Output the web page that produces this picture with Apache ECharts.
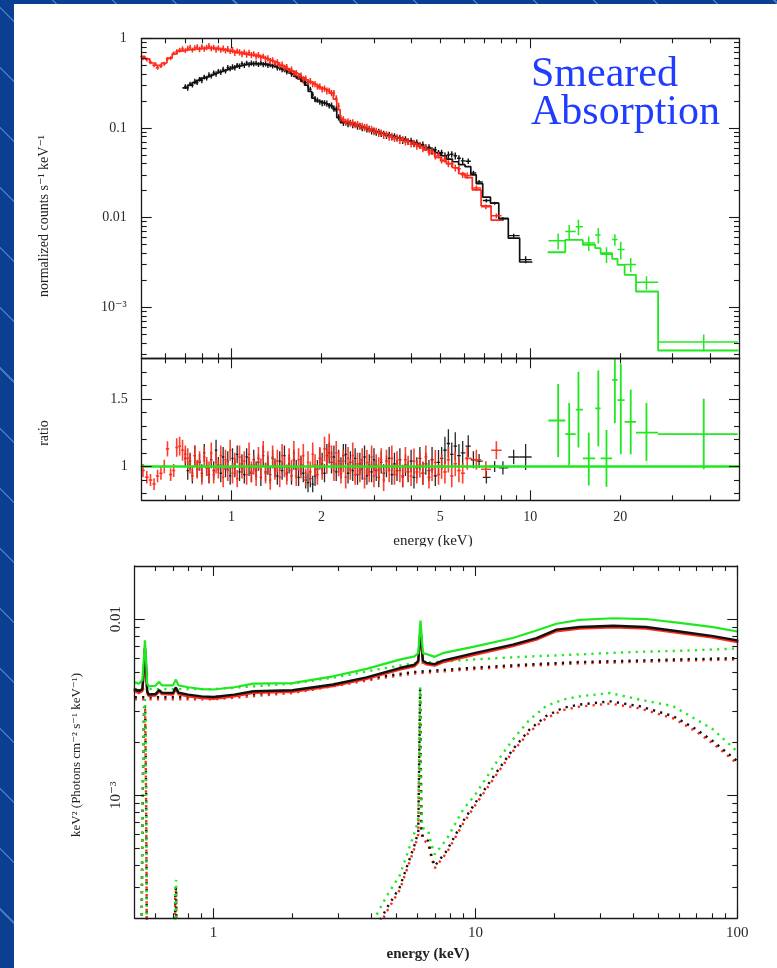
<!DOCTYPE html>
<html>
<head>
<meta charset="utf-8">
<script src="https://cdn.jsdelivr.net/npm/echarts@6/dist/echarts.min.js"></script>
<style>
  html, body { margin: 0; padding: 0; width: 777px; height: 968px; overflow: hidden; }
  body {
    background-color: #0a3f92;
    background-image: repeating-linear-gradient(45deg,
      rgba(255,255,255,0) 0px, rgba(255,255,255,0) 41px,
      rgba(120,160,225,0.55) 41px, rgba(120,160,225,0.55) 42.5px);
  }
  #sheet { position: absolute; left: 14px; top: 4px; right: 0; bottom: 0; background: #ffffff; }
  #chart { position: absolute; left: 0; top: 0; width: 777px; height: 968px; }
</style>
</head>
<body>
<div id="sheet"></div>
<div id="chart"></div>
<script>
// ================= red detector (0.5-8 keV) =================
// folded model, sampled on the model grid (drawn as a histogram)
const redModelE = [0.505,0.52,0.545,0.57,0.595,0.62,0.645,0.67,0.695,0.72,
  0.75,0.78,0.81,0.84,0.87,0.90,0.93,0.96,0.99,1.02,
  1.05,1.08,1.11,1.14,1.17,1.20,1.235,1.27,1.305,1.34,
  1.38,1.42,1.46,1.50,1.545,1.59,1.635,1.68,1.73,1.78,
  1.83,1.88,1.93,1.985,2.04,2.10,2.16,2.22,2.28,2.34,
  2.41,2.48,2.56,2.64,2.73,2.82,2.92,3.02,3.13,3.25,
  3.37,3.50,3.64,3.79,3.95,4.12,4.30,4.49,4.69,4.90,
  5.12,5.36,5.62,5.90,6.2,6.6,7.1,7.7];
const redModel = [0.63,0.59,0.53,0.50,0.53,0.60,0.67,0.72,0.74,0.75,
  0.76,0.77,0.78,0.78,0.77,0.76,0.75,0.73,0.72,0.70,
  0.69,0.68,0.67,0.66,0.65,0.64,0.63,0.61,0.59,0.57,
  0.55,0.53,0.50,0.48,0.455,0.43,0.41,0.39,0.365,0.345,
  0.325,0.31,0.295,0.28,0.27,0.258,0.245,0.21,0.16,0.125,
  0.118,0.114,0.110,0.106,0.102,0.098,0.094,0.091,0.088,0.085,
  0.082,0.079,0.076,0.073,0.070,0.066,0.062,0.057,0.052,0.047,
  0.043,0.040,0.036,0.031,0.028,0.0204,0.0135,0.0094];
// data channels
const redE = [0.505,0.52,0.535,0.55,0.565,0.58,0.595,0.61,0.625,0.64,
  0.655,0.67,0.685,0.70,0.713,0.726,0.739,0.753,0.767,0.781,
  0.795,0.81,0.825,0.84,0.855,0.871,0.887,0.903,0.92,0.937,
  0.954,0.971,0.989,1.007,1.025,1.044,1.063,1.083,1.103,1.123,
  1.144,1.165,1.186,1.208,1.23,1.253,1.276,1.299,1.323,1.347,
  1.372,1.397,1.423,1.449,1.476,1.503,1.53,1.558,1.587,1.616,
  1.646,1.676,1.707,1.738,1.77,1.802,1.835,1.869,1.903,1.938,
  1.974,2.01,2.047,2.084,2.122,2.161,2.201,2.241,2.282,2.324,
  2.367,2.41,2.454,2.499,2.545,2.592,2.64,2.688,2.737,2.787,
  2.838,2.89,2.943,2.997,3.05,3.11,3.17,3.23,3.30,3.37,
  3.44,3.51,3.58,3.66,3.74,3.82,3.90,3.99,4.08,4.17,
  4.27,4.37,4.47,4.58,4.69,4.81,4.93,5.05,5.18,5.32,
  5.46,5.61,5.77,5.94,6.15,6.6,7.1,7.7];
const redCounts = [0.60,0.58,0.54,0.50,0.47,0.49,0.52,0.59,0.60,0.68,
  0.71,0.74,0.76,0.73,0.77,0.79,0.74,0.78,0.80,0.75,
  0.80,0.76,0.79,0.82,0.77,0.79,0.75,0.78,0.74,0.77,
  0.73,0.76,0.72,0.74,0.69,0.72,0.70,0.67,0.70,0.66,
  0.69,0.65,0.67,0.63,0.65,0.61,0.63,0.59,0.60,0.56,
  0.57,0.53,0.54,0.50,0.51,0.47,0.48,0.44,0.45,0.41,
  0.41,0.38,0.385,0.35,0.36,0.325,0.335,0.31,0.31,0.29,
  0.29,0.27,0.275,0.26,0.26,0.245,0.245,0.215,0.175,0.128,
  0.125,0.116,0.119,0.112,0.115,0.108,0.111,0.104,0.106,0.100,
  0.102,0.096,0.098,0.091,0.093,0.087,0.089,0.083,0.085,0.079,
  0.081,0.076,0.078,0.073,0.075,0.070,0.071,0.066,0.068,0.063,
  0.064,0.059,0.060,0.054,0.055,0.049,0.050,0.044,0.045,0.040,
  0.040,0.036,0.035,0.030,0.0295,0.0214,0.0132,0.0105];
const redRatio = [0.97,0.92,0.90,0.87,0.93,0.95,1.00,1.13,0.94,0.97,
  1.14,1.15,1.12,1.09,1.06,1.02,0.95,1.08,0.98,1.04,
  0.93,1.07,1.00,0.96,1.10,0.94,1.03,0.98,1.08,0.92,
  1.05,0.97,1.12,0.95,1.02,0.91,1.07,0.99,1.04,0.94,
  1.09,0.96,1.01,0.93,1.06,0.98,1.11,0.95,1.03,0.90,
  1.07,0.97,1.04,0.92,1.08,1.00,0.94,1.06,0.97,1.10,
  0.93,1.05,0.99,1.08,0.92,1.03,0.96,1.09,1.01,0.94,
  1.06,0.98,1.13,1.04,1.15,1.07,0.97,1.10,1.02,0.95,
  1.04,0.92,1.06,0.98,1.08,0.94,1.02,0.97,1.05,0.91,
  1.03,0.96,1.07,0.93,1.01,0.98,1.05,0.90,1.04,0.97,
  1.06,0.94,1.02,0.97,0.92,1.05,0.99,0.93,1.04,0.96,
  1.01,0.95,1.07,0.92,0.98,1.03,0.94,1.00,0.96,1.05,
  0.93,1.02,0.97,0.95,1.06,1.05,0.98,1.12];
const redErr = [0.05,0.05,0.05,0.05,0.05,0.05,0.05,0.05,0.05,0.05,
  0.06,0.06,0.07,0.06,0.07,0.07,0.06,0.07,0.07,0.07,
  0.07,0.07,0.07,0.08,0.07,0.07,0.08,0.07,0.07,0.08,
  0.07,0.08,0.07,0.08,0.08,0.07,0.08,0.08,0.07,0.08,
  0.08,0.08,0.07,0.08,0.08,0.08,0.07,0.08,0.08,0.08,
  0.08,0.07,0.08,0.08,0.08,0.08,0.08,0.07,0.08,0.08,
  0.08,0.08,0.08,0.08,0.07,0.08,0.08,0.08,0.08,0.08,
  0.08,0.08,0.08,0.09,0.08,0.08,0.08,0.08,0.09,0.08,
  0.08,0.09,0.08,0.08,0.09,0.08,0.08,0.09,0.08,0.08,
  0.09,0.08,0.08,0.09,0.08,0.09,0.08,0.09,0.08,0.09,
  0.09,0.08,0.09,0.09,0.08,0.09,0.09,0.08,0.09,0.09,
  0.09,0.09,0.08,0.09,0.09,0.09,0.08,0.09,0.09,0.09,
  0.09,0.09,0.09,0.08,0.08,0.07,0.06,0.06];

// ================= black detector (0.7-10 keV) =================
const blackModelE = [0.70,0.725,0.75,0.775,0.80,0.825,0.85,0.875,0.90,0.93,
  0.96,0.99,1.02,1.05,1.08,1.11,1.14,1.17,1.20,1.235,
  1.27,1.305,1.34,1.38,1.42,1.46,1.50,1.545,1.59,1.635,
  1.68,1.73,1.78,1.83,1.88,1.93,1.985,2.04,2.10,2.16,
  2.22,2.28,2.34,2.41,2.48,2.56,2.64,2.73,2.82,2.92,
  3.02,3.13,3.25,3.37,3.50,3.64,3.79,3.95,4.12,4.30,
  4.49,4.69,4.90,5.12,5.36,5.62,5.90,6.2,6.45,6.74,
  7.13,7.6,8.1,8.8,9.65];
const blackModel = [0.28,0.30,0.32,0.34,0.36,0.375,0.39,0.405,0.42,0.435,
  0.45,0.465,0.48,0.49,0.50,0.51,0.515,0.52,0.52,0.52,
  0.515,0.51,0.50,0.49,0.47,0.45,0.435,0.415,0.395,0.375,
  0.355,0.33,0.30,0.255,0.215,0.20,0.195,0.188,0.18,0.172,
  0.16,0.13,0.116,0.114,0.112,0.109,0.106,0.102,0.098,0.094,
  0.091,0.088,0.085,0.082,0.079,0.076,0.073,0.0705,0.067,0.064,
  0.060,0.057,0.053,0.049,0.045,0.042,0.039,0.037,0.030,0.024,
  0.0169,0.0145,0.0098,0.0059,0.0032];
const blackE = [0.70,0.713,0.726,0.739,0.753,0.767,0.781,0.795,0.81,0.825,
  0.84,0.855,0.871,0.887,0.903,0.92,0.937,0.954,0.971,0.989,
  1.007,1.025,1.044,1.063,1.083,1.103,1.123,1.144,1.165,1.186,
  1.208,1.23,1.253,1.276,1.299,1.323,1.347,1.372,1.397,1.423,
  1.449,1.476,1.503,1.53,1.558,1.587,1.616,1.646,1.676,1.707,
  1.738,1.77,1.802,1.835,1.869,1.903,1.938,1.974,2.01,2.047,
  2.084,2.122,2.161,2.201,2.241,2.282,2.324,2.367,2.41,2.454,
  2.499,2.545,2.592,2.64,2.688,2.737,2.787,2.838,2.89,2.943,
  2.997,3.05,3.11,3.17,3.23,3.30,3.37,3.44,3.51,3.58,
  3.66,3.74,3.82,3.90,3.99,4.08,4.17,4.27,4.37,4.47,
  4.58,4.69,4.81,4.93,5.05,5.18,5.32,5.46,5.61,5.77,
  5.94,6.2,6.45,6.74,7.13,7.6,8.1,8.8,9.65];
const blackCounts = [0.29,0.28,0.31,0.30,0.33,0.32,0.35,0.34,0.37,0.36,
  0.39,0.38,0.41,0.40,0.43,0.42,0.45,0.43,0.47,0.46,
  0.48,0.47,0.50,0.49,0.52,0.50,0.53,0.51,0.53,0.52,
  0.53,0.51,0.53,0.51,0.52,0.50,0.51,0.49,0.50,0.47,
  0.47,0.45,0.45,0.42,0.43,0.40,0.40,0.38,0.37,0.36,
  0.34,0.32,0.30,0.27,0.235,0.21,0.205,0.195,0.19,0.19,
  0.187,0.177,0.178,0.165,0.162,0.132,0.121,0.114,0.115,0.111,
  0.114,0.108,0.110,0.104,0.106,0.100,0.102,0.096,0.098,0.092,
  0.094,0.089,0.091,0.086,0.087,0.082,0.084,0.079,0.081,0.077,
  0.078,0.073,0.075,0.070,0.072,0.067,0.069,0.064,0.065,0.061,
  0.061,0.056,0.057,0.052,0.053,0.049,0.050,0.051,0.049,0.046,
  0.043,0.0426,0.0315,0.025,0.0155,0.0145,0.0097,0.0063,0.0034];
const blackRatio = [1.06,0.97,1.04,0.93,1.08,0.98,1.03,0.95,1.10,0.99,
  0.94,1.05,0.97,1.12,1.01,0.95,1.07,0.98,1.04,0.93,
  1.06,0.99,1.09,0.96,1.02,0.94,1.07,1.00,0.95,1.05,
  0.97,1.03,0.92,1.08,0.96,1.01,0.94,1.06,0.99,0.93,
  1.04,0.97,1.08,0.95,1.02,0.93,1.05,0.98,0.92,1.01,
  0.95,0.90,0.88,0.91,0.87,0.93,0.98,1.06,1.02,0.95,
  1.08,1.10,1.03,1.07,0.96,1.04,0.99,1.08,1.09,0.95,
  1.03,0.97,1.06,0.94,1.02,0.98,1.07,0.93,1.01,0.96,
  1.05,0.97,0.92,1.03,0.95,1.00,1.06,0.94,1.02,0.97,
  1.05,0.93,1.01,0.96,1.04,0.92,0.99,1.06,0.95,1.02,
  0.97,1.05,0.93,1.03,1.06,1.12,1.17,1.09,1.15,1.08,
  1.10,1.15,1.05,1.04,0.92,1.00,0.99,1.07,1.07];
const blackErr = [0.06,0.07,0.06,0.06,0.07,0.06,0.06,0.07,0.06,0.06,
  0.07,0.06,0.07,0.07,0.06,0.07,0.07,0.06,0.07,0.07,
  0.07,0.07,0.06,0.07,0.07,0.07,0.06,0.07,0.07,0.07,
  0.07,0.06,0.07,0.07,0.07,0.07,0.07,0.06,0.07,0.07,
  0.07,0.07,0.07,0.06,0.07,0.07,0.07,0.07,0.07,0.07,
  0.07,0.07,0.08,0.07,0.07,0.08,0.07,0.07,0.08,0.07,
  0.08,0.07,0.08,0.08,0.07,0.08,0.08,0.08,0.07,0.08,
  0.08,0.08,0.07,0.08,0.08,0.08,0.08,0.07,0.08,0.08,
  0.08,0.08,0.08,0.08,0.07,0.08,0.08,0.08,0.08,0.08,
  0.08,0.09,0.08,0.08,0.08,0.09,0.08,0.08,0.09,0.08,
  0.08,0.09,0.08,0.09,0.08,0.09,0.09,0.08,0.09,0.08,
  0.08,0.07,0.06,0.05,0.05,0.04,0.05,0.05,0.09];

// ================= green detector (hard X-ray) =================
const greenEdges = [11.5,13.1,14.2,15.0,16.5,17.2,18.8,19.6,20.7,22.6,26.8,49.5];
const greenE = [12.4,13.5,14.5,15.7,16.9,18.0,19.2,20.1,21.7,24.5,38.1];
const greenModel = [0.00411,0.00564,0.00564,0.00497,0.00456,0.00401,0.00347,0.00297,0.00230,0.00150,0.00033];
const greenCounts = [0.00554,0.0070,0.0079,0.0052,0.0064,0.0039,0.0057,0.0044,0.0030,0.0019,0.00041];
const greenRatio = [1.34,1.24,1.42,1.06,1.43,1.06,1.64,1.49,1.33,1.25,1.24];
const greenRatioLo = [1.07,1.01,1.14,0.86,1.15,0.85,1.32,1.09,1.09,1.04,0.98];
const greenRatioHi = [1.61,1.47,1.70,1.25,1.71,1.27,1.80,1.76,1.57,1.47,1.50];

// ================= unfolded model, E^2 F(E) =================
const totE = [0.50,0.52,0.535,0.543,0.547,0.552,0.558,0.565,0.60,0.62,
  0.635,0.70,0.718,0.735,0.80,0.90,1.0,1.2,1.42,2.0,
  2.86,3.84,5.14,5.85,6.05,6.17,6.3,6.5,6.99,7.5,
  10,13.9,17.1,20.4,25,33.6,44.8,60.2,80.9,100];
const totBlack = [0.00398,0.0039,0.0040,0.0055,0.00685,0.0055,0.0039,0.00373,0.00375,0.00395,
  0.00382,0.00380,0.00409,0.00382,0.00372,0.00364,0.00361,0.00372,0.00389,0.00394,
  0.00425,0.00466,0.00527,0.0055,0.0058,0.0087,0.0058,0.00564,0.00555,0.0058,
  0.00642,0.00715,0.0078,0.0087,0.00901,0.00916,0.00901,0.0085,0.0080,0.00756];
const totRed = [0.0039,0.0038,0.0039,0.0054,0.0068,0.0054,0.0038,0.00366,0.00368,0.00388,
  0.00375,0.00372,0.0040,0.00374,0.00364,0.00356,0.00353,0.00364,0.00381,0.00386,
  0.00416,0.00457,0.00516,0.00539,0.00568,0.0086,0.00568,0.00553,0.00544,0.00568,
  0.00629,0.00701,0.00765,0.00853,0.00883,0.00898,0.00883,0.00833,0.00784,0.00741];
const totGreen = [0.00437,0.0043,0.0045,0.0062,0.00756,0.0061,0.0043,0.00415,0.00418,0.0044,
  0.0042,0.0042,0.00453,0.0042,0.0041,0.0040,0.00398,0.0041,0.0043,0.00433,
  0.00473,0.00521,0.00588,0.00614,0.0064,0.0098,0.0064,0.00633,0.0061,0.0064,
  0.0070,0.0078,0.0086,0.0094,0.0099,0.0101,0.0100,0.0095,0.0090,0.0085];

// power-law continuum component
const plE = [0.5,1,2,3,4.3,5.8,10,15,25,40,60,100];
const plBlack = [0.0036,0.0036,0.0039,0.0043,0.0047,0.0050,0.0053,0.0055,0.0057,0.0058,0.0059,0.0060];
const plRed = [0.0035,0.0035,0.0038,0.0042,0.0046,0.0049,0.0052,0.0054,0.0056,0.0057,0.0058,0.0059];
const plGreen = [0.0040,0.0040,0.0043,0.0047,0.0052,0.0056,0.0059,0.0061,0.0063,0.0065,0.0066,0.0068];

// reflection component with Fe line
const rfE = [4.2,4.6,5.14,5.85,6.05,6.15,6.22,6.3,6.6,6.8,
  6.99,7.76,8.98,10,12,13.9,16.1,18.6,21.6,25,
  32.7,42.4,56.9,69.9,80.9,100];
const rfBlack = [1.8e-4,2.3e-4,3.0e-4,5.2e-4,6.2e-4,0.0040,6.4e-4,5.8e-4,5.5e-4,4.5e-4,
  3.96e-4,4.82e-4,7.13e-4,9.06e-4,1.34e-3,1.82e-3,2.36e-3,2.81e-3,3.13e-3,3.27e-3,
  3.41e-3,3.2e-3,2.81e-3,2.36e-3,2.02e-3,1.56e-3];
const rfRed = [1.7e-4,2.2e-4,2.9e-4,5.0e-4,6.0e-4,0.0039,6.2e-4,5.6e-4,5.3e-4,4.4e-4,
  3.85e-4,4.7e-4,6.9e-4,8.8e-4,1.30e-3,1.77e-3,2.29e-3,2.73e-3,3.04e-3,3.18e-3,
  3.31e-3,3.11e-3,2.73e-3,2.29e-3,1.96e-3,1.51e-3];
const rfGreen = [2.1e-4,2.7e-4,3.5e-4,6.1e-4,7.2e-4,0.0041,7.4e-4,6.5e-4,6.3e-4,5.2e-4,
  4.61e-4,5.61e-4,8.3e-4,1.01e-3,1.53e-3,2.07e-3,2.68e-3,3.2e-3,3.49e-3,3.64e-3,
  3.8e-3,3.49e-3,3.2e-3,2.68e-3,2.36e-3,1.77e-3];

// soft emission lines
const slE = [0.50,0.527,0.535,0.543,0.548,0.553,0.560,0.60,0.708,0.714,0.720,0.726,0.75];
const slBlack = [2e-5,2e-5,8e-4,3.0e-3,3.2e-3,1.0e-3,2e-5,2e-5,2e-5,2.8e-4,3.0e-4,2e-5,2e-5];
const slRed = [2e-5,2e-5,7e-4,2.9e-3,3.1e-3,9e-4,2e-5,2e-5,2e-5,2.7e-4,2.9e-4,2e-5,2e-5];
const slGreen = [2e-5,2e-5,9e-4,3.3e-3,3.5e-3,1.1e-3,2e-5,2e-5,2e-5,3.1e-4,3.3e-4,2e-5,2e-5];

// ================= axis ticks and labels =================
const specXMinor = [0.6,0.7,0.8,0.9,2,3,4,5,6,7,8,9,20,30,40];
const specXMajor = [1,10];
const specXLabelValues = [1,2,5,10,20];
const specXLabelTexts = ['1','2','5','10','20'];
const countsMinor = [3e-4,4e-4,5e-4,6e-4,7e-4,8e-4,9e-4,0.002,0.003,0.004,0.005,0.006,0.007,0.008,0.009,
  0.02,0.03,0.04,0.05,0.06,0.07,0.08,0.09,0.2,0.3,0.4,0.5,0.6,0.7,0.8,0.9];
const countsMajor = [0.001,0.01,0.1,1];
const countsLabelValues = [0.001,0.01,0.1,1];
const countsLabelTexts = ['10\u207B\u00B3','0.01','0.1','1'];
const ratioMinor = [0.8,0.9,1.1,1.2,1.3,1.4,1.6,1.7];
const ratioMajor = [1,1.5];
const ratioLabelValues = [1,1.5];
const ratioLabelTexts = ['1','1.5'];
const modelXMinor = [0.6,0.7,0.8,0.9,2,3,4,5,6,7,8,9,20,30,40,50,60,70,80,90];
const modelXMajor = [1,10,100];
const modelXLabelValues = [1,10,100];
const modelXLabelTexts = ['1','10','100'];
const modelYMinor = [3e-4,4e-4,5e-4,6e-4,7e-4,8e-4,9e-4,0.002,0.003,0.004,0.005,0.006,0.007,0.008,0.009];
const modelYMajor = [0.001,0.01];
const modelYLabelValues = [0.001,0.01];
const modelYLabelTexts = ['10\u207B\u00B3','0.01'];

// ================= styling and helpers =================
const SERIF = '"Liberation Serif","DejaVu Serif",serif';
const RED = '#ff2a1a';
const BLACK = '#111111';
const GREEN = '#1fe81f';
const AXC = '#1a1a1a';

function labelFn(values, texts) {
  return function (v) {
    for (let i = 0; i < values.length; i++) {
      if (Math.abs(Math.log10(v / values[i])) < 1e-6) return texts[i];
    }
    return '';
  };
}

function axis(o) {
  const a = {
    type: o.type, gridIndex: o.grid, position: o.pos, min: o.min, max: o.max,
    axisLine: { show: !!o.line, onZero: false, lineStyle: { color: AXC, width: 1.3 } },
    axisTick: { show: true, inside: true, length: o.len, customValues: o.ticks,
      lineStyle: { color: AXC, width: 1.1 } },
    axisLabel: { show: false },
    splitLine: { show: false }, minorTick: { show: false }, minorSplitLine: { show: false },
    axisPointer: { show: false }, silent: true, z: 6
  };
  if (o.type === 'log') a.logBase = 10;
  if (o.labels) {
    a.axisLabel = {
      show: true, customValues: o.labels[0], formatter: labelFn(o.labels[0], o.labels[1]),
      margin: o.margin, rotate: o.rotate || 0, fontFamily: SERIF, fontSize: o.fs,
      color: '#2a2a2a', hideOverlap: false
    };
  }
  return a;
}

// frame of one side pair: line + minor ticks (+labels), major ticks, mirrored on the far side
function frame(dim, grid, type, min, max, minor, major, labels, lab) {
  const pA = dim === 'x' ? 'bottom' : 'left';
  const pB = dim === 'x' ? 'top' : 'right';
  const L = lab || {};
  return [
    axis({ type, grid, pos: pA, min, max, line: true, len: 5, ticks: minor, labels,
      margin: L.margin, rotate: L.rotate, fs: L.fs }),
    axis({ type, grid, pos: pA, min, max, line: false, len: 10, ticks: major }),
    axis({ type, grid, pos: pB, min, max, line: true, len: 5, ticks: minor }),
    axis({ type, grid, pos: pB, min, max, line: false, len: 10, ticks: major })
  ];
}

// channel boundaries halfway (in log) between neighbouring channel centres
function binEdges(c) {
  const n = c.length, lo = [], hi = [];
  for (let i = 0; i < n; i++) {
    lo.push(i > 0 ? Math.sqrt(c[i - 1] * c[i]) : c[0] * c[0] / Math.sqrt(c[0] * c[1]));
    hi.push(i < n - 1 ? Math.sqrt(c[i] * c[i + 1]) : c[n - 1] * c[n - 1] / Math.sqrt(c[n - 2] * c[n - 1]));
  }
  return { lo, hi };
}

function stepLine(lo, hi, vals) {
  const pts = [];
  for (let i = 0; i < vals.length; i++) { pts.push([lo[i], vals[i]], [hi[i], vals[i]]); }
  return pts;
}

function crossItems(E, lo, hi, v, rel) {
  return E.map((e, i) => [e, lo[i], hi[i], v[i], v[i] * (1 - rel[i]), v[i] * (1 + rel[i])]);
}

function crossSeries(color, xi, yi, items, width, opacity, z) {
  return {
    type: 'custom', xAxisIndex: xi, yAxisIndex: yi, clip: true, silent: true, z: z || 3,
    data: items, encode: { x: [0, 1, 2], y: [3, 4, 5] },
    renderItem: function (params, api) {
      const e = api.value(0), el = api.value(1), eh = api.value(2);
      const v = api.value(3), vl = api.value(4), vh = api.value(5);
      const pL = api.coord([el, v]), pR = api.coord([eh, v]);
      const pB = api.coord([e, vl]), pT = api.coord([e, vh]);
      const st = { stroke: color, lineWidth: width, opacity: opacity };
      return {
        type: 'group', children: [
          { type: 'line', shape: { x1: pL[0], y1: pL[1], x2: pR[0], y2: pR[1] }, style: st },
          { type: 'line', shape: { x1: pB[0], y1: pB[1], x2: pT[0], y2: pT[1] }, style: st }
        ]
      };
    }
  };
}

function lineSeries(xi, yi, data, color, width, dotted, z) {
  return {
    type: 'line', xAxisIndex: xi, yAxisIndex: yi, data: data, showSymbol: false, symbol: 'none',
    clip: true, silent: true, z: z, smooth: false,
    lineStyle: dotted
      ? { color: color, width: 2.4, type: [2.2, 5.2], cap: 'butt' }
      : { color: color, width: width, type: 'solid', cap: 'round' }
  };
}

function zip(x, y) { return x.map((v, i) => [v, y[i]]); }

const redBins = binEdges(redE);
const blackBins = binEdges(blackE);
const redModelBins = binEdges(redModelE);
const blackModelBins = binEdges(blackModelE);
const greenLo = greenEdges.slice(0, -1);
const greenHi = greenEdges.slice(1);
const greenRel = greenRatio.map((r, i) => (greenRatioHi[i] - greenRatioLo[i]) / (2 * r));

const E_MIN = 0.5, E_MAX = 50;

const chart = echarts.init(document.getElementById('chart'), null, { renderer: 'canvas', width: 777, height: 968 });

const xAxes = [].concat(
  frame('x', 0, 'log', E_MIN, E_MAX, specXMinor, specXMajor, null),
  frame('x', 1, 'log', E_MIN, E_MAX, specXMinor, specXMajor, [specXLabelValues, specXLabelTexts], { margin: 10, fs: 14 }),
  frame('x', 2, 'log', 0.5, 100, modelXMinor, modelXMajor, [modelXLabelValues, modelXLabelTexts], { margin: 7, fs: 15 })
);
const yAxes = [].concat(
  frame('y', 0, 'log', 2.7e-4, 1, countsMinor, countsMajor, [countsLabelValues, countsLabelTexts], { margin: 15, fs: 14 }),
  frame('y', 1, 'value', 0.75, 1.8, ratioMinor, ratioMajor, [ratioLabelValues, ratioLabelTexts], { margin: 14, fs: 14 }),
  frame('y', 2, 'log', 2e-4, 0.02, modelYMinor, modelYMajor, [modelYLabelValues, modelYLabelTexts], { margin: 11, fs: 15, rotate: 90 })
);

const series = [
  // folded count spectra
  lineSeries(0, 0, stepLine(blackModelBins.lo, blackModelBins.hi, blackModel), BLACK, 1.7, false, 2),
  crossSeries(BLACK, 0, 0, crossItems(blackE, blackBins.lo, blackBins.hi, blackCounts, blackErr), 1.4, 1),
  lineSeries(0, 0, stepLine(redModelBins.lo, redModelBins.hi, redModel), RED, 1.7, false, 2),
  crossSeries(RED, 0, 0, crossItems(redE, redBins.lo, redBins.hi, redCounts, redErr), 1.5, 1),
  lineSeries(0, 0, stepLine(greenLo, greenHi, greenModel), GREEN, 1.8, false, 2),
  crossSeries(GREEN, 0, 0, crossItems(greenE, greenLo, greenHi, greenCounts, greenRel), 1.5, 1),
  // data / model ratio
  crossSeries(BLACK, 4, 4, crossItems(blackE, blackBins.lo, blackBins.hi, blackRatio, blackErr), 1.3, 0.9),
  crossSeries(RED, 4, 4, crossItems(redE, redBins.lo, redBins.hi, redRatio, redErr), 1.6, 0.9),
  crossSeries(GREEN, 4, 4, greenRatio.map((r, i) => [greenE[i], greenLo[i], greenHi[i], r, greenRatioLo[i], greenRatioHi[i]]), 1.8, 1),
  lineSeries(4, 4, [[E_MIN, 1], [E_MAX, 1]], GREEN, 2.4, false, 5),
  // unfolded model components
  lineSeries(8, 8, zip(slE, slRed), RED, 2, true, 2),
  lineSeries(8, 8, zip(slE, slBlack), BLACK, 2, true, 2),
  lineSeries(8, 8, zip(slE, slGreen), GREEN, 2, true, 2),
  lineSeries(8, 8, zip(plE, plRed), RED, 2, true, 2),
  lineSeries(8, 8, zip(plE, plBlack), BLACK, 2, true, 2),
  lineSeries(8, 8, zip(plE, plGreen), GREEN, 2, true, 2),
  lineSeries(8, 8, zip(rfE, rfRed), RED, 2, true, 2),
  lineSeries(8, 8, zip(rfE, rfBlack), BLACK, 2, true, 2),
  lineSeries(8, 8, zip(rfE, rfGreen), GREEN, 2, true, 2),
  lineSeries(8, 8, zip(totE, totRed), RED, 2.4, false, 3),
  lineSeries(8, 8, zip(totE, totBlack), BLACK, 2.4, false, 3),
  lineSeries(8, 8, zip(totE, totGreen), GREEN, 2.2, false, 3)
];

function vtext(text, x, y, size, rot, weight) {
  return {
    type: 'text', x: x, y: y, rotation: rot || 0, z: 10, silent: true,
    style: { text: text, fontFamily: SERIF, fontSize: size, fontWeight: weight || 'normal',
      fill: '#222', align: 'center', verticalAlign: 'middle',
      textAlign: 'center', textVerticalAlign: 'middle' }
  };
}

chart.setOption({
  animation: false,
  backgroundColor: 'transparent',
  grid: [
    { left: 141.7, top: 38.3, width: 597.3, height: 320, containLabel: false, outerBoundsMode: 'none' },
    { left: 141.7, top: 358.3, width: 597.3, height: 142, containLabel: false, outerBoundsMode: 'none' },
    { left: 134.7, top: 566, width: 602.6, height: 352.3, containLabel: false, outerBoundsMode: 'none' }
  ],
  xAxis: xAxes,
  yAxis: yAxes,
  series: series,
  graphic: [
    { type: 'text', x: 531, y: 75, z: 10, silent: true,
      style: { text: 'Smeared', fontFamily: SERIF, fontSize: 42, fill: '#1f3cff',
        align: 'left', verticalAlign: 'middle', textAlign: 'left', textVerticalAlign: 'middle' } },
    { type: 'text', x: 531, y: 113, z: 10, silent: true,
      style: { text: 'Absorption', fontFamily: SERIF, fontSize: 42, fill: '#1f3cff',
        align: 'left', verticalAlign: 'middle', textAlign: 'left', textVerticalAlign: 'middle' } },
    vtext('normalized counts s\u207B\u00B9 keV\u207B\u00B9', 44, 216, 14, Math.PI / 2),
    vtext('ratio', 44, 433, 14, Math.PI / 2),
    vtext('energy (keV)', 433, 541, 15),
    { type: 'rect', shape: { x: 380, y: 546.5, width: 110, height: 8 }, z: 11, silent: true,
      style: { fill: '#ffffff' } },
    vtext('keV\u00B2 (Photons cm\u207B\u00B2 s\u207B\u00B9 keV\u207B\u00B9)', 77, 755, 13, Math.PI / 2),
    vtext('energy (keV)', 428, 954, 15, 0, 'bold')
  ]
});
</script>
</body>
</html>
